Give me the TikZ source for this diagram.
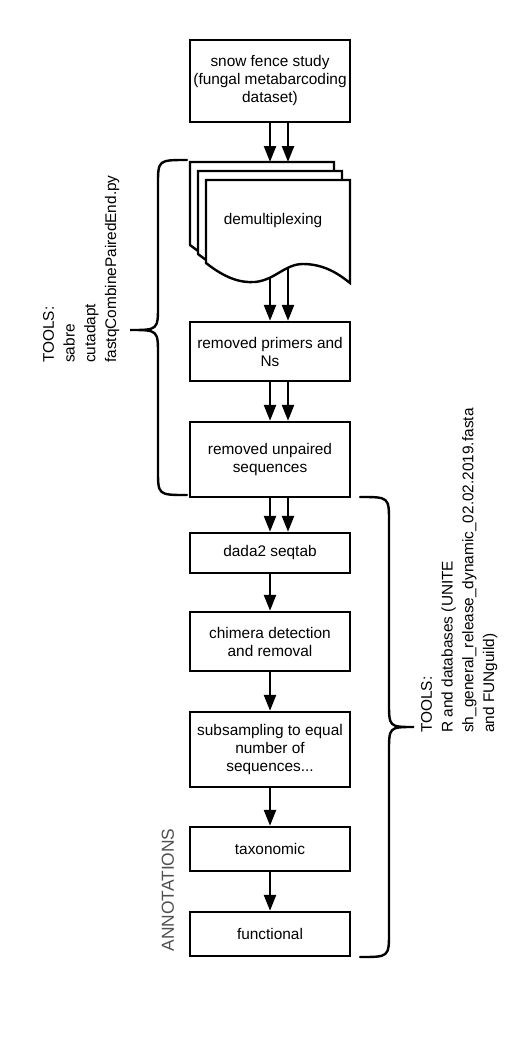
\documentclass[tikz,border=0pt]{standalone}
\usepackage{fontspec}
\setmainfont{Liberation Sans}
\usetikzlibrary{arrows.meta,calc}
\newcommand\boxfont{\fontsize{15.4}{18}\selectfont}
\newcommand\notefont{\fontsize{15.4}{20.7}\selectfont}
\newcommand\labelfont{\fontsize{17.4}{20}\selectfont}
\definecolor{labelgray}{HTML}{505050}
\begin{document}
\begin{tikzpicture}[x=1pt,y=-1pt,
  stepbox/.style={draw,line width=2.4pt,minimum width=160pt,inner sep=0pt,align=center,font=\boxfont},
  flow/.style={line width=2.4pt,-{Triangle[length=16pt,width=12pt]}},
  brace/.style={line width=2.4pt,line cap=round},
  page/.style={draw,fill=white,line width=2.4pt,line join=miter},
  sidenote/.style={rotate=90,anchor=north west,inner sep=0pt,align=left,font=\notefont}]
\useasboundingbox (0,0) rectangle (520,1052);

% process steps
\node[stepbox,minimum height=82pt] (study) at (270,81) {snow fence study\\(fungal metabarcoding\\dataset)};
\node[stepbox,minimum height=59pt] (prim) at (270,351.5) {removed primers and\\Ns};
\node[stepbox,minimum height=75pt] (unp) at (270,459.5) {removed unpaired\\sequences};
\node[stepbox,minimum height=40pt] (dada) at (270,553) {dada2 seqtab};
\node[stepbox,minimum height=59pt] (chim) at (270,641.5) {chimera detection\\and removal};
\node[stepbox,minimum height=75pt] (sub) at (270,749.5) {subsampling to equal\\number of\\sequences...};
\node[stepbox,minimum height=44pt] (tax) at (270,849) {taxonomic};
\node[stepbox,minimum height=44pt] (fun) at (270,934) {functional};

% arrows leaving the document stack (their upper part is hidden by the pages)
\coordinate (docin) at (270,240);
\draw[flow] (docin) -- (prim.north);
\draw[flow] ([xshift=18pt]docin) -- ([xshift=18pt]prim.north);

% stacked document pages with a wavy lower edge
\foreach \s in {16,8,0}{
  \draw[page,shift={(-\s,-\s*9/8)}]
    (206,180) -- (350,180) -- (350,283)
    .. controls (340,275) and (325,264) .. (303,264)
    .. controls (285,264) and (275,280) .. (255,282)
    .. controls (240,283) and (225,278) .. (206,263) -- cycle;
}
\node[font=\boxfont,inner sep=0pt] (demux) at (273,221) {demultiplexing};
\coordinate (doctop) at (270,162);

% connectors
\draw[flow] (study.south) -- (doctop);
\draw[flow] ([xshift=18pt]study.south) -- ([xshift=18pt]doctop);
\draw[flow] (prim.south) -- (unp.north);
\draw[flow] ([xshift=18pt]prim.south) -- ([xshift=18pt]unp.north);
\draw[flow] (unp.south) -- (dada.north);
\draw[flow] ([xshift=18pt]unp.south) -- ([xshift=18pt]dada.north);
\draw[flow] (dada.south) -- (chim.north);
\draw[flow] (chim.south) -- (sub.north);
\draw[flow] (sub.south) -- (tax.north);
\draw[flow] (tax.south) -- (fun.north);

% braces grouping the steps by tool
\draw[brace] (187,160) .. controls (158,160) .. (158,185) -- (158,305)
  .. controls (158,330) .. (130,330) .. controls (158,330) .. (158,355)
  -- (158,470) .. controls (158,495) .. (187,495);
\draw[brace] (360,497) .. controls (389,497) .. (389,522) -- (389,702)
  .. controls (389,727) .. (414,727) .. controls (389,727) .. (389,752)
  -- (389,932) .. controls (389,957) .. (360,957);

% side notes
\node[sidenote] (toolsA) at (43,363) {TOOLS:\\sabre\\cutadapt\\fastqCombinePairedEnd.py};
\node[sidenote] (toolsB) at (421,733) {TOOLS:\\R and databases (UNITE\\sh\_general\_release\_dynamic\_02.02.2019.fasta\\and FUNguild)};
\node[rotate=90,inner sep=0pt,font=\labelfont,text=labelgray] (annot) at (168,890) {ANNOTATIONS};
\end{tikzpicture}
\end{document}
